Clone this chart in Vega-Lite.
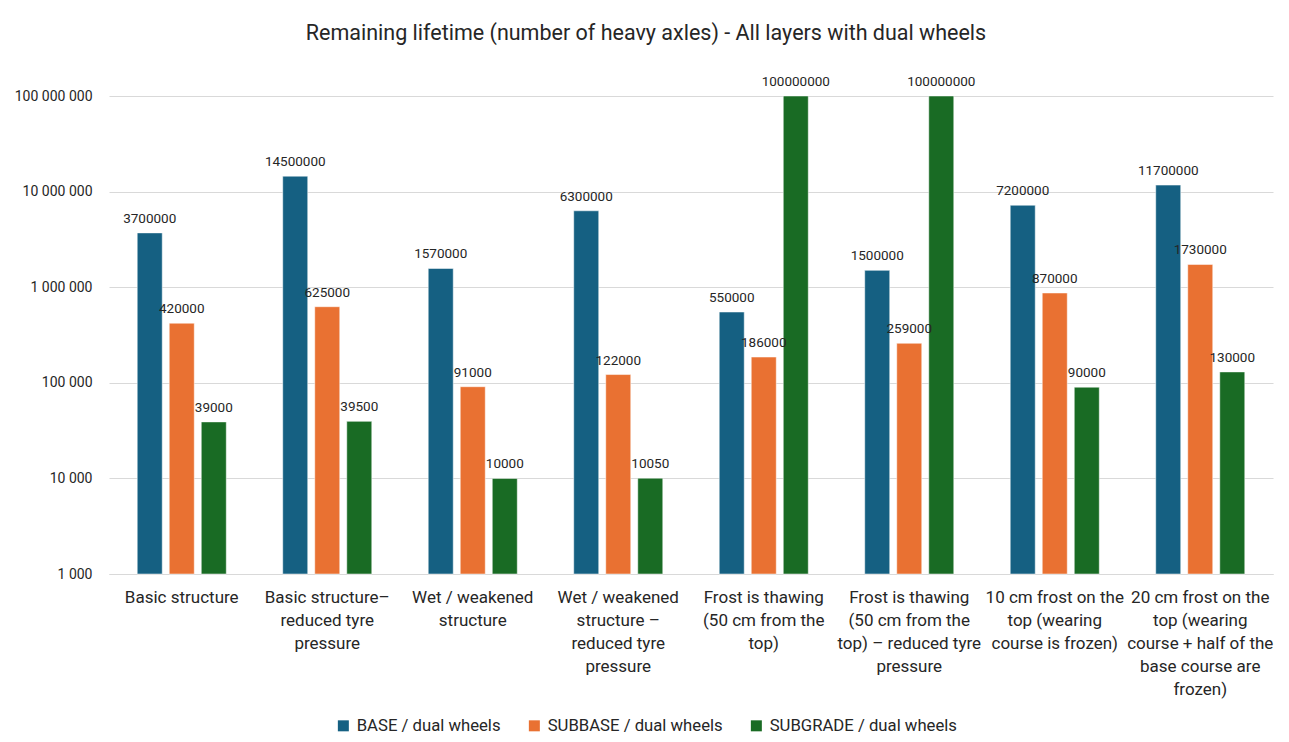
{
  "$schema": "https://vega.github.io/schema/vega-lite/v6.json",
  "autosize": "none",
  "width": 1164,
  "height": 478,
  "padding": {"left": 109, "top": 96, "right": 16, "bottom": 168},
  "background": "white",
  "title": {
    "text": "Remaining lifetime (number of heavy axles) - All layers with dual wheels",
    "fontSize": 21.5,
    "fontWeight": "normal",
    "font": "Roboto",
    "color": "#262626",
    "anchor": "middle",
    "dx": -45,
    "offset": 31
  },
  "config": {
    "view": {"stroke": null},
    "font": "Roboto"
  },
  "data": {
    "values": [
      {"case": "Basic structure", "layer": "BASE / dual wheels", "value": 3700000},
      {"case": "Basic structure", "layer": "SUBBASE / dual wheels", "value": 420000},
      {"case": "Basic structure", "layer": "SUBGRADE / dual wheels", "value": 39000},
      {"case": "Basic structure – reduced tyre pressure", "layer": "BASE / dual wheels", "value": 14500000},
      {"case": "Basic structure – reduced tyre pressure", "layer": "SUBBASE / dual wheels", "value": 625000},
      {"case": "Basic structure – reduced tyre pressure", "layer": "SUBGRADE / dual wheels", "value": 39500},
      {"case": "Wet / weakened structure", "layer": "BASE / dual wheels", "value": 1570000},
      {"case": "Wet / weakened structure", "layer": "SUBBASE / dual wheels", "value": 91000},
      {"case": "Wet / weakened structure", "layer": "SUBGRADE / dual wheels", "value": 10000},
      {"case": "Wet / weakened structure – reduced tyre pressure", "layer": "BASE / dual wheels", "value": 6300000},
      {"case": "Wet / weakened structure – reduced tyre pressure", "layer": "SUBBASE / dual wheels", "value": 122000},
      {"case": "Wet / weakened structure – reduced tyre pressure", "layer": "SUBGRADE / dual wheels", "value": 10050},
      {"case": "Frost is thawing (50 cm from the top)", "layer": "BASE / dual wheels", "value": 550000},
      {"case": "Frost is thawing (50 cm from the top)", "layer": "SUBBASE / dual wheels", "value": 186000},
      {"case": "Frost is thawing (50 cm from the top)", "layer": "SUBGRADE / dual wheels", "value": 100000000},
      {"case": "Frost is thawing (50 cm from the top) – reduced tyre pressure", "layer": "BASE / dual wheels", "value": 1500000},
      {"case": "Frost is thawing (50 cm from the top) – reduced tyre pressure", "layer": "SUBBASE / dual wheels", "value": 259000},
      {"case": "Frost is thawing (50 cm from the top) – reduced tyre pressure", "layer": "SUBGRADE / dual wheels", "value": 100000000},
      {"case": "10 cm frost on the top (wearing course is frozen)", "layer": "BASE / dual wheels", "value": 7200000},
      {"case": "10 cm frost on the top (wearing course is frozen)", "layer": "SUBBASE / dual wheels", "value": 870000},
      {"case": "10 cm frost on the top (wearing course is frozen)", "layer": "SUBGRADE / dual wheels", "value": 90000},
      {"case": "20 cm frost on the top (wearing course + half of the base course are frozen)", "layer": "BASE / dual wheels", "value": 11700000},
      {"case": "20 cm frost on the top (wearing course + half of the base course are frozen)", "layer": "SUBBASE / dual wheels", "value": 1730000},
      {"case": "20 cm frost on the top (wearing course + half of the base course are frozen)", "layer": "SUBGRADE / dual wheels", "value": 130000}
    ]
  },
  "encoding": {
    "x": {
      "field": "case",
      "type": "nominal",
      "sort": null,
      "scale": {"paddingInner": 0.388, "paddingOuter": 0.194},
      "axis": {
        "title": null,
        "labelAngle": 0,
        "labelFontSize": 17,
        "labelColor": "#262626",
        "labelLineHeight": 23,
        "labelPadding": 15,
        "labelLimit": 0,
        "ticks": false,
        "domainColor": "#d9d9d9",
        "domainWidth": 1,
        "labelExpr": "{'Basic structure': ['Basic structure'], 'Basic structure – reduced tyre pressure': ['Basic structure–', 'reduced tyre', 'pressure'], 'Wet / weakened structure': ['Wet / weakened', 'structure'], 'Wet / weakened structure – reduced tyre pressure': ['Wet / weakened', 'structure –', 'reduced tyre', 'pressure'], 'Frost is thawing (50 cm from the top)': ['Frost is thawing', '(50 cm from the', 'top)'], 'Frost is thawing (50 cm from the top) – reduced tyre pressure': ['Frost is thawing', '(50 cm from the', 'top) – reduced tyre', 'pressure'], '10 cm frost on the top (wearing course is frozen)': ['10 cm frost on the', 'top (wearing', 'course is frozen)'], '20 cm frost on the top (wearing course + half of the base course are frozen)': ['20 cm frost on the', 'top (wearing', 'course + half of the', 'base course are', 'frozen)']}[datum.value]"
      }
    },
    "xOffset": {
      "field": "layer",
      "type": "nominal",
      "sort": ["BASE / dual wheels", "SUBBASE / dual wheels", "SUBGRADE / dual wheels"],
      "scale": {"paddingInner": 0.219, "paddingOuter": 0}
    },
    "y": {
      "field": "value",
      "type": "quantitative",
      "scale": {"type": "log", "domain": [1000, 100000000], "nice": false},
      "axis": {
        "title": null,
        "values": [1000, 10000, 100000, 1000000, 10000000, 100000000],
        "labelExpr": "replace(format(datum.value, ','), regexp(',', 'g'), ' ')",
        "labelFontSize": 14,
        "labelColor": "#262626",
        "labelPadding": 17,
        "domain": false,
        "ticks": false,
        "gridColor": "#d9d9d9",
        "gridWidth": 1
      }
    }
  },
  "layer": [
    {
      "mark": {"type": "bar", "stroke": "white", "strokeWidth": 0.5},
      "encoding": {
        "y2": {"datum": 1000},
        "color": {
          "field": "layer",
          "type": "nominal",
          "scale": {
            "domain": ["BASE / dual wheels", "SUBBASE / dual wheels", "SUBGRADE / dual wheels"],
            "range": ["#156082", "#E97132", "#196B24"]
          },
          "legend": {
            "title": null,
            "orient": "none",
            "direction": "horizontal",
            "legendX": 226,
            "legendY": 621,
            "symbolType": "square",
            "symbolSize": 121,
            "symbolStrokeWidth": 0,
            "labelFontSize": 16.7,
            "labelColor": "#262626",
            "labelLimit": 0,
            "columnPadding": 25,
            "labelOffset": 5
          }
        }
      }
    },
    {
      "mark": {"type": "text", "baseline": "bottom", "dy": -7, "fontSize": 13.5, "color": "#262626"},
      "encoding": {
        "text": {"field": "value", "type": "quantitative", "format": "d"}
      }
    }
  ]
}
